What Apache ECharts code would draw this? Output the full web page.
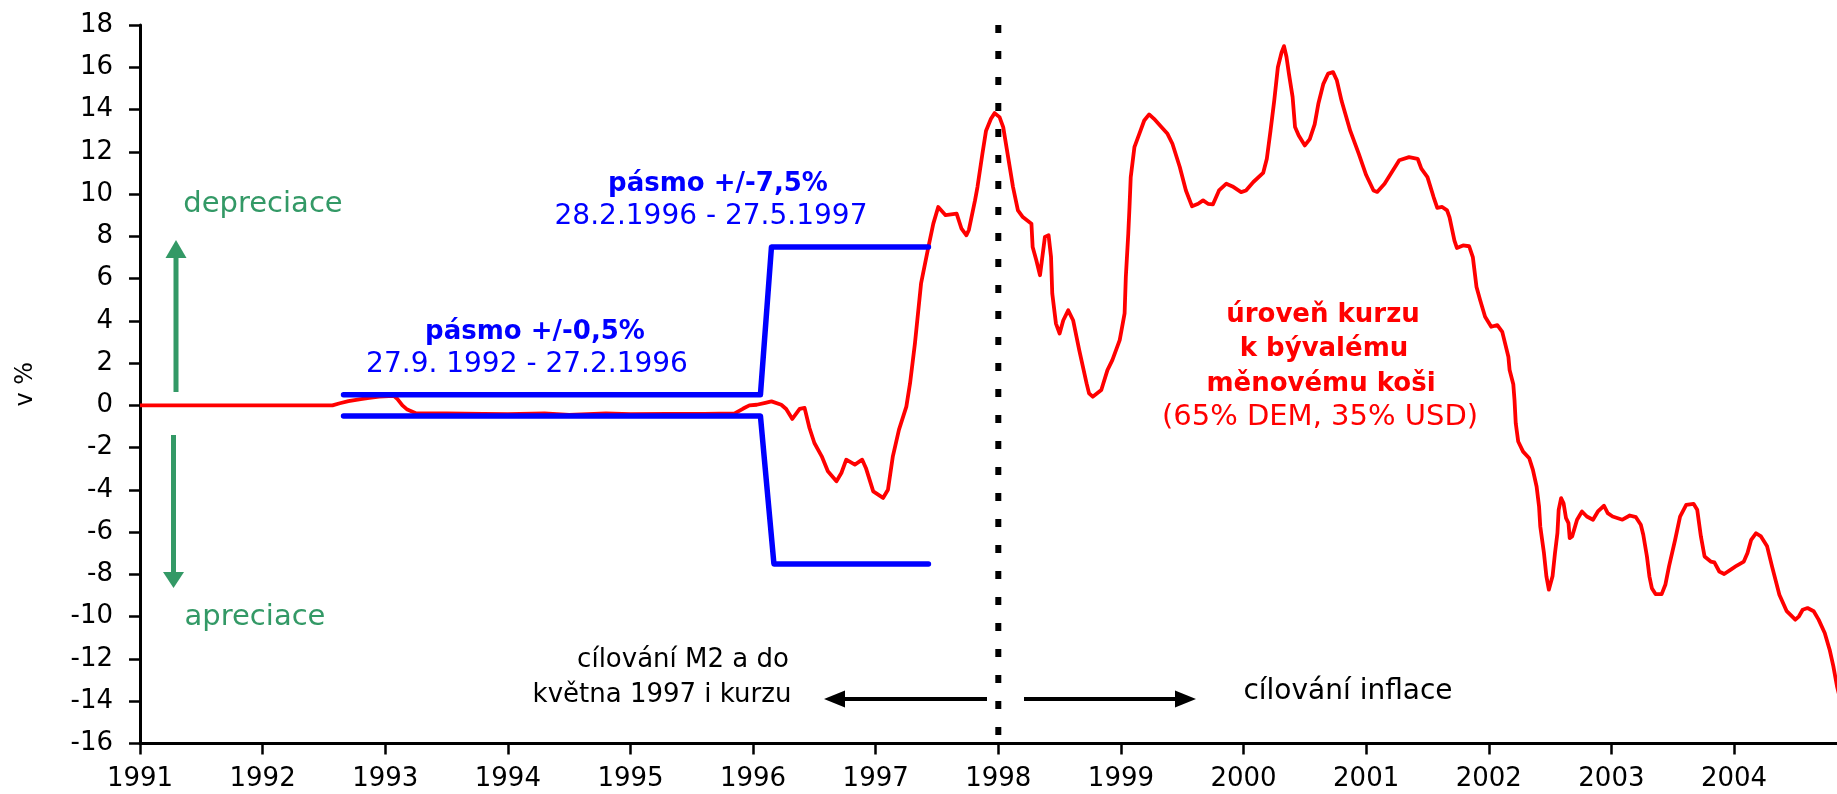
<!DOCTYPE html>
<html><head><meta charset="utf-8">
<script src="https://cdn.jsdelivr.net/npm/echarts@6/dist/echarts.min.js"></script>
<style>html,body{margin:0;padding:0;background:#fff}#c{width:1837px;height:794px}</style>
</head><body><div id="c"></div>
<script>
// ---------- data ----------
const yearTicks = [1991,1992,1993,1994,1995,1996,1997,1998,1999,2000,2001,2002,2003,2004];
const yMin = -16, yMax = 18, yStep = 2;

// exchange rate level vs. former currency basket (65% DEM, 35% USD), %
const redYears = [
 1991.00,1992.57,1992.63,1992.70,1992.80,1992.87,1992.95,1993.07,1993.10,1993.14,1993.18,1993.25,
 1993.50,1993.80,1994.00,1994.30,1994.50,1994.80,1995.00,1995.30,1995.60,1995.85,1995.92,1995.97,
 1996.03,1996.10,1996.15,1996.23,1996.27,1996.32,1996.38,1996.42,1996.46,1996.50,1996.56,1996.61,
 1996.68,1996.72,1996.76,1996.83,1996.89,1996.92,1996.98,1997.06,1997.10,1997.14,1997.19,1997.25,
 1997.28,1997.32,1997.37,1997.43,1997.47,1997.51,1997.57,1997.66,1997.70,1997.74,1997.76,1997.81,
 1997.83,1997.87,1997.90,1997.94,1997.97,1998.01,1998.04,1998.08,1998.12,1998.16,1998.20,1998.27,
 1998.28,1998.31,1998.34,1998.38,1998.41,1998.43,1998.44,1998.47,1998.50,1998.53,1998.57,1998.61,
 1998.66,1998.72,1998.74,1998.77,1998.84,1998.89,1998.93,1998.99,1999.03,1999.04,1999.06,1999.07,
 1999.08,1999.11,1999.15,1999.19,1999.23,1999.27,1999.33,1999.38,1999.42,1999.48,1999.53,1999.58,
 1999.63,1999.67,1999.71,1999.75,1999.80,1999.86,1999.91,1999.98,2000.02,2000.08,2000.16,2000.19,
 2000.22,2000.25,2000.28,2000.31,2000.33,2000.35,2000.37,2000.40,2000.42,2000.45,2000.50,2000.54,
 2000.58,2000.61,2000.65,2000.69,2000.73,2000.76,2000.80,2000.83,2000.87,2000.94,2001.00,2001.06,
 2001.09,2001.15,2001.21,2001.27,2001.35,2001.42,2001.45,2001.50,2001.55,2001.58,2001.62,2001.66,
 2001.68,2001.72,2001.74,2001.79,2001.84,2001.87,2001.90,2001.93,2001.97,2002.02,2002.07,2002.11,
 2002.16,2002.17,2002.20,2002.21,2002.22,2002.24,2002.28,2002.33,2002.36,2002.39,2002.41,2002.42,
 2002.45,2002.47,2002.49,2002.52,2002.54,2002.56,2002.57,2002.59,2002.61,2002.63,2002.65,2002.66,
 2002.68,2002.72,2002.76,2002.80,2002.85,2002.89,2002.94,2002.97,2003.01,2003.09,2003.15,2003.20,
 2003.24,2003.26,2003.29,2003.31,2003.33,2003.36,2003.41,2003.44,2003.47,2003.52,2003.56,2003.61,
 2003.67,2003.70,2003.73,2003.76,2003.81,2003.84,2003.88,2003.92,2003.98,2004.02,2004.08,2004.11,
 2004.14,2004.18,2004.22,2004.27,2004.31,2004.37,2004.43,2004.50,2004.53,2004.56,2004.60,2004.65,
 2004.69,2004.74,2004.78,2004.81,2004.84,2004.87];
const redValues = [
 0,0,0.1,0.2,0.3,0.35,0.42,0.45,0.3,0.0,-0.2,-0.37,
 -0.38,-0.4,-0.42,-0.38,-0.45,-0.38,-0.42,-0.4,-0.4,-0.38,-0.15,0.0,
 0.03,0.12,0.19,0.03,-0.17,-0.64,-0.17,-0.12,-1.07,-1.78,-2.41,-3.12,
 -3.59,-3.2,-2.57,-2.8,-2.57,-2.96,-4.07,-4.38,-3.99,-2.41,-1.15,-0.06,
 1.04,2.93,5.77,7.5,8.6,9.39,9.0,9.07,8.36,8.05,8.3,9.7,
 10.33,11.9,13.0,13.56,13.83,13.64,13.17,11.75,10.33,9.23,8.91,8.6,
 7.5,6.87,6.16,7.97,8.05,7.02,5.29,3.87,3.4,4.03,4.5,4.03,
 2.62,1.04,0.57,0.41,0.73,1.67,2.14,3.09,4.35,6.08,8.13,9.39,
 10.8,12.22,12.85,13.48,13.77,13.56,13.17,12.85,12.38,11.28,10.17,9.42,
 9.54,9.7,9.54,9.51,10.17,10.49,10.36,10.09,10.17,10.57,11.0,11.67,
 13.0,14.4,16.0,16.7,17.0,16.5,15.7,14.6,13.17,12.77,12.3,12.6,
 13.3,14.27,15.2,15.7,15.77,15.4,14.4,13.8,13.0,11.9,10.9,10.17,
 10.1,10.49,11.04,11.6,11.75,11.67,11.2,10.8,9.86,9.35,9.39,9.23,
 8.9,7.8,7.45,7.57,7.53,7.02,5.6,4.98,4.19,3.72,3.8,3.48,
 2.3,1.67,1.0,0.25,-0.85,-1.71,-2.19,-2.5,-3.05,-3.84,-4.78,-5.73,
 -6.99,-8.09,-8.72,-8.09,-6.99,-6.04,-4.94,-4.39,-4.63,-5.34,-5.57,-6.28,
 -6.2,-5.41,-5.02,-5.26,-5.41,-5.02,-4.75,-5.1,-5.26,-5.41,-5.21,-5.29,
 -5.65,-6.12,-7.15,-8.09,-8.65,-8.93,-8.93,-8.49,-7.62,-6.36,-5.26,-4.71,
 -4.66,-4.94,-6.2,-7.15,-7.39,-7.43,-7.86,-7.98,-7.75,-7.59,-7.39,-6.99,
 -6.36,-6.05,-6.2,-6.67,-7.62,-8.96,-9.74,-10.14,-9.98,-9.67,-9.59,-9.74,
 -10.14,-10.77,-11.56,-12.34,-13.29,-14.0];

// fluctuation band limits
const bandUpperYears  = [1992.66, 1996.06, 1996.15, 1997.43];
const bandUpperValues = [0.5, 0.5, 7.5, 7.5];
const bandLowerYears  = [1992.66, 1996.06, 1996.17, 1997.43];
const bandLowerValues = [-0.5, -0.5, -7.5, -7.5];

// regime change (1.1.1998)
const dividerYears  = [1998, 1998];
const dividerValues = [18, -16];

// ---------- chart ----------
const zip = (a, b) => a.map((v, i) => [v, b[i]]);
const FONT = '"DejaVu Sans", "Liberation Sans", sans-serif';
const GREEN = '#339966';

function txt(text, x, y, color, size, bold) {
  return {type: 'text', x: x, y: y, z: 100,
    style: {text: text, fill: color, font: (bold ? 'bold ' : '') + size + 'px ' + FONT,
      align: 'center', verticalAlign: 'middle', textAlign: 'center', textVerticalAlign: 'middle'}};
}
function rect(x, y, w, h, color) {
  return {type: 'rect', z: 100, shape: {x: x, y: y, width: w, height: h}, style: {fill: color}};
}
function tri(points, color) {
  return {type: 'polygon', z: 100, shape: {points: points}, style: {fill: color}};
}

const chart = echarts.init(document.getElementById('c'), null, {renderer: 'canvas'});
chart.setOption({
  animation: false,
  backgroundColor: '#ffffff',
  grid: {left: 140, right: 0, top: 25, bottom: 50.5, containLabel: false},
  xAxis: {
    type: 'value', min: 1991, max: 2004.84, interval: 1,
    axisLine: {onZero: false, lineStyle: {color: '#000', width: 3}},
    axisTick: {show: true, inside: false, length: 11, lineStyle: {color: '#000', width: 2.5}, customValues: yearTicks},
    axisLabel: {color: '#000', fontSize: 26, fontFamily: FONT, margin: 23, customValues: yearTicks,
      formatter: v => String(Math.round(v))},
    splitLine: {show: false}
  },
  yAxis: {
    type: 'value', min: yMin, max: yMax, interval: yStep,
    name: 'v %', nameLocation: 'middle', nameGap: 102, nameRotate: 90,
    nameTextStyle: {color: '#000', fontSize: 24, fontFamily: FONT},
    axisLine: {show: true, onZero: false, lineStyle: {color: '#000', width: 3}},
    axisTick: {show: true, inside: false, length: 11, lineStyle: {color: '#000', width: 2.5}},
    axisLabel: {color: '#000', fontSize: 26, fontFamily: FONT, margin: 27},
    splitLine: {show: false}
  },
  series: [
    {name: 'kurz', type: 'line', data: zip(redYears, redValues), showSymbol: false, symbol: 'none',
      lineStyle: {color: '#ff0000', width: 3.8, join: 'round'}, z: 2, clip: true},
    {name: 'horní mez', type: 'line', data: zip(bandUpperYears, bandUpperValues), showSymbol: false, symbol: 'none',
      lineStyle: {color: '#0000ff', width: 5.5, cap: 'round', join: 'round'}, z: 3},
    {name: 'dolní mez', type: 'line', data: zip(bandLowerYears, bandLowerValues), showSymbol: false, symbol: 'none',
      lineStyle: {color: '#0000ff', width: 5.5, cap: 'round', join: 'round'}, z: 3},
    {name: 'předěl', type: 'line', data: zip(dividerYears, dividerValues), showSymbol: false, symbol: 'none',
      lineStyle: {color: '#000000', width: 6, type: [8, 18], cap: 'butt'}, z: 4}
  ],
  graphic: [
    txt('depreciace', 263, 204, GREEN, 29, false),
    txt('apreciace', 255, 617, GREEN, 29, false),
    rect(173.5, 255, 5, 137, GREEN), tri([[176, 240], [165.5, 258], [186.5, 258]], GREEN),
    rect(171, 435, 5, 138, GREEN), tri([[163, 572], [184, 572], [173.5, 588]], GREEN),
    txt('pásmo +/-7,5%', 718, 184, '#0000ff', 26, true),
    txt('28.2.1996 - 27.5.1997', 711, 217, '#0000ff', 28, false),
    txt('pásmo +/-0,5%', 535, 332, '#0000ff', 26, true),
    txt('27.9. 1992 - 27.2.1996', 527, 365, '#0000ff', 28, false),
    txt('úroveň kurzu', 1323, 315, '#ff0000', 26, true),
    txt('k bývalému', 1324, 349, '#ff0000', 26, true),
    txt('měnovému koši', 1321, 384, '#ff0000', 26, true),
    txt('(65% DEM, 35% USD)', 1320, 417, '#ff0000', 29, false),
    txt('cílování M2 a do', 683, 660, '#000', 26, false),
    txt('května 1997 i kurzu', 662, 695, '#000', 26, false),
    txt('cílování inflace', 1348, 692, '#000', 28, false),
    rect(843, 697, 144, 4, '#000'), tri([[824, 699], [845, 690.5], [845, 707.5]], '#000'),
    rect(1024, 697, 153, 4, '#000'), tri([[1196, 699], [1175, 690.5], [1175, 707.5]], '#000')
  ]
});
</script></body></html>
